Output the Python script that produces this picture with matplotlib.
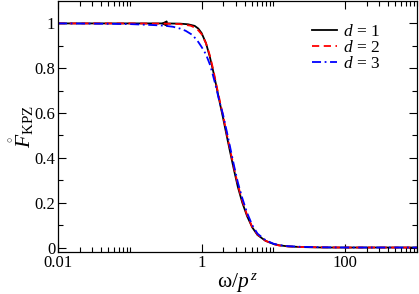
import matplotlib
matplotlib.use("Agg")
from matplotlib import pyplot as plt
from matplotlib.ticker import FixedLocator, FixedFormatter, NullFormatter

# omega / p^z and the scaling function
w1 = [0.01, 0.1, 0.3, 0.5, 0.65, 0.8, 0.9, 1.0, 1.15, 1.3, 1.45, 1.6, 1.8, 2.0, 2.2,
      2.5, 2.83, 3.2, 3.69, 4.3, 5.07, 6.0, 7.76, 10, 12, 16, 25, 50, 100, 1000]
f1 = [1.0, 1.0, 1.0, 0.999, 0.996, 0.989, 0.977, 0.957, 0.912, 0.852, 0.787, 0.722, 0.643, 0.575, 0.51,
      0.425, 0.345, 0.27, 0.2, 0.14, 0.09, 0.056, 0.03, 0.016, 0.01, 0.005, 0.002, 0.0, 0.0, 0.0]

w2 = [0.01, 0.1, 0.3, 0.5, 0.7, 0.85, 1.0, 1.15, 1.3, 1.45, 1.6, 1.8, 2.0, 2.2,
      2.5, 2.83, 3.2, 3.69, 4.3, 5.07, 6.0, 7.76, 10, 12, 16, 25, 50, 100, 1000]
f2 = [1.0, 1.0, 0.999, 0.997, 0.99, 0.978, 0.952, 0.912, 0.858, 0.795, 0.728, 0.652, 0.585, 0.52,
      0.435, 0.355, 0.28, 0.208, 0.145, 0.092, 0.058, 0.03, 0.015, 0.009, 0.005, 0.002, 0.001, 0.0, 0.0]

w3 = [0.01, 0.03, 0.1, 0.2, 0.3, 0.4, 0.5, 0.6, 0.75, 0.9, 1.0, 1.15, 1.3, 1.42, 1.6, 1.75, 2.0, 2.2,
      2.5, 2.83, 3.2, 3.69, 4.3, 5.07, 6.0, 7.76, 10, 12, 16, 25, 50, 100, 1000]
f3 = [1.0, 0.999, 0.997, 0.993, 0.99, 0.985, 0.977, 0.967, 0.948, 0.917, 0.895, 0.862, 0.818, 0.776, 0.712, 0.658, 0.59, 0.53,
      0.447, 0.365, 0.29, 0.22, 0.155, 0.1, 0.062, 0.033, 0.017, 0.011, 0.006, 0.003, 0.001, 0.0, 0.0]

labels = ["$d$ = 1", "$d$ = 2", "$d$ = 3"]

xmajor = [0.01, 1, 100]
xmajor_labels = ["0.01", "1", "100"]
ymajor = [0, 0.2, 0.4, 0.6, 0.8, 1.0]
ymajor_labels = ["0", "0.2", "0.4", "0.6", "0.8", "1"]

plt.rcParams["font.family"] = ["Liberation Serif", "DejaVu Serif"]
plt.rcParams["mathtext.fontset"] = "custom"
plt.rcParams["mathtext.rm"] = "Liberation Serif"
plt.rcParams["mathtext.it"] = "Liberation Serif:italic"
plt.rcParams["font.size"] = 12

fig = plt.figure(figsize=(4.19, 2.94), dpi=100)
ax = fig.add_axes([58 / 419, 1 - 252 / 294, 359 / 419, 251 / 294])

ax.plot(w1, f1, color="black", lw=1.3, label=labels[0])
# small arrow glyph sitting on the d=1 curve in the original
ax.plot(w1[2:3], f1[2:3], ls="none", marker="<", ms=3.5, color="black")
ax.plot(w2, f2, color="red", lw=1.3, ls=(0, (4, 2.5)), label=labels[1])
ax.plot(w3, f3, color="blue", lw=1.3, ls=(0, (5, 2, 1, 2)), label=labels[2])

ax.set_xscale("log")
ax.set_xlim(0.01, 1000)
ax.set_ylim(-0.02, 1.1)

ax.xaxis.set_major_locator(FixedLocator(xmajor))
ax.xaxis.set_major_formatter(FixedFormatter(xmajor_labels))
ax.xaxis.set_minor_locator(FixedLocator([m * k for m in xmajor for k in range(2, 11)]))
ax.xaxis.set_minor_formatter(NullFormatter())
ax.yaxis.set_major_locator(FixedLocator(ymajor))
ax.yaxis.set_major_formatter(FixedFormatter(ymajor_labels))
ax.yaxis.set_minor_locator(FixedLocator([0.1, 0.3, 0.5, 0.7, 0.9]))

ax.tick_params(which="both", direction="in", top=True, right=True, width=0.8, pad=2)
ax.tick_params(which="major", length=6)
ax.tick_params(which="minor", length=3.5)
for s in ax.spines.values():
  s.set_linewidth(0.9)

ax.set_xlabel("ω/$p^{\\,z}$", fontsize=15.5, labelpad=0)
ax.set_ylabel("$\\mathring{F}_{\\mathrm{KPZ}}$", fontsize=15.5, labelpad=-1)

ax.legend(loc="upper left", frameon=False, fontsize=12.5, handlelength=1.45, handletextpad=0.3,
          labelspacing=0.0, borderpad=0, borderaxespad=0, bbox_to_anchor=(0.708, 0.91))

fig.savefig("out.png", dpi=100)
